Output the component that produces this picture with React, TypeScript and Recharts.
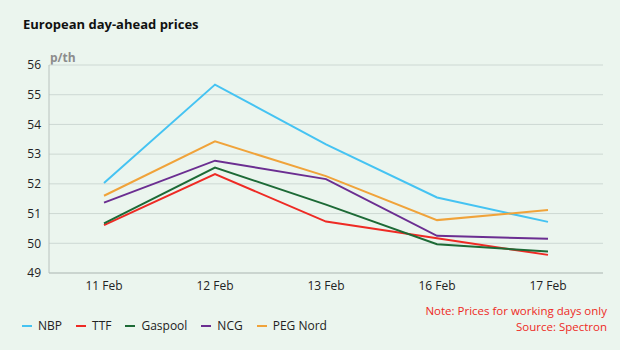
import { LineChart, Line, XAxis, YAxis, CartesianGrid } from "recharts"

const days = ["11 Feb", "12 Feb", "13 Feb", "16 Feb", "17 Feb"]
const nbp = [52.03, 55.34, 53.33, 51.54, 50.72]
const ttf = [50.61, 52.33, 50.73, 50.17, 49.61]
const gaspool = [50.67, 52.55, 51.3, 49.97, 49.72]
const ncg = [51.37, 52.78, 52.16, 50.25, 50.15]
const pegNord = [51.6, 53.43, 52.26, 50.78, 51.12]
const yTicks = [49, 50, 51, 52, 53, 54, 55, 56]

const series = [
  { key: "NBP", values: nbp, color: "#45c3f2" },
  { key: "TTF", values: ttf, color: "#ee2a24" },
  { key: "Gaspool", values: gaspool, color: "#1d6a36" },
  { key: "NCG", values: ncg, color: "#6b2e91" },
  { key: "PEG Nord", values: pegNord, color: "#f0a33a" },
]

const data = days.map((day, i) => {
  const row: Record<string, string | number> = { day }
  series.forEach((s) => (row[s.key] = s.values[i]))
  return row
})

const font = "'Segoe UI', 'Open Sans', 'Noto Sans', sans-serif"

export default function App() {
  return (
    <div
      style={{
        position: "absolute",
        left: 0,
        top: 0,
        width: 620,
        height: 350,
        background: "#ebf5ee",
        fontFamily: font,
        overflow: "hidden",
      }}
    >
      <div style={{ position: "absolute", left: 23, top: 15, fontSize: 13, fontWeight: 700, color: "#111" }}>
        European day-ahead prices
      </div>
      <div style={{ position: "absolute", left: 50, top: 49, fontSize: 12, fontWeight: 700, color: "#8c8c8c" }}>
        p/th
      </div>
      <LineChart width={620} height={350} data={data} margin={{ top: 65, right: 17, bottom: 47, left: 0 }}>
        <CartesianGrid vertical={false} stroke="#cdd8d3" />
        <XAxis
          dataKey="day"
          padding={{ left: 55, right: 55 }}
          tickLine={false}
          axisLine={{ stroke: "#b9c2be" }}
          tick={{ fontSize: 12, fill: "#222", fontFamily: font }}
        />
        <YAxis
          width={49}
          domain={[49, 56]}
          ticks={yTicks}
          tickLine={false}
          axisLine={{ stroke: "#b9c2be" }}
          tick={{ fontSize: 12, fill: "#222", fontFamily: font }}
        />
        {series.map((s) => (
          <Line
            key={s.key}
            type="linear"
            dataKey={s.key}
            stroke={s.color}
            strokeWidth={2}
            dot={false}
            isAnimationActive={false}
          />
        ))}
      </LineChart>
      <div style={{ position: "absolute", left: 22, top: 317, display: "flex", fontSize: 12, color: "#222" }}>
        {series.map((s) => (
          <div key={s.key} style={{ display: "flex", alignItems: "center", marginRight: 14 }}>
            <span style={{ width: 10, height: 2, background: s.color, marginRight: 6 }} />
            {s.key}
          </div>
        ))}
      </div>
      <div
        style={{
          position: "absolute",
          right: 13,
          top: 303,
          textAlign: "right",
          fontSize: 11.5,
          lineHeight: "16px",
          color: "#ee2a24",
        }}
      >
        <div>Note: Prices for working days only</div>
        <div>Source: Spectron</div>
      </div>
    </div>
  )
}
